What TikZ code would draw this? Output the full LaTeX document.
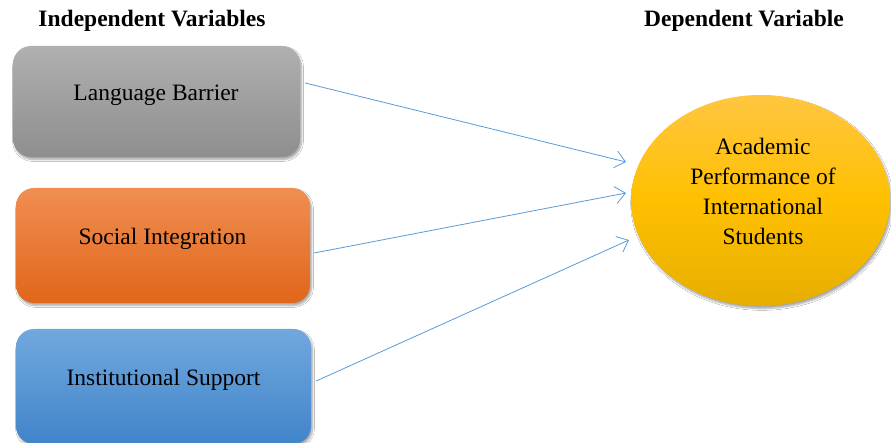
\documentclass[tikz,border=0pt]{standalone}
\usepackage{fontspec}
\setmainfont{Liberation Serif}
\usetikzlibrary{arrows.meta,shadows.blur}
\definecolor{gtop}{HTML}{B0B0B0}
\definecolor{gbot}{HTML}{8E8E8E}
\definecolor{otop}{HTML}{F08E52}
\definecolor{obot}{HTML}{E0661A}
\definecolor{btop}{HTML}{70A8DE}
\definecolor{bbot}{HTML}{4184CA}
\definecolor{ytop}{HTML}{FFC641}
\definecolor{ymid}{HTML}{FFC000}
\definecolor{ybot}{HTML}{E6AE00}
\definecolor{arr}{HTML}{5B9BD5}
\tikzset{
  varbox/.style={rectangle, rounded corners=18pt, inner sep=0pt,
    blur shadow={shadow xshift=1.5pt, shadow yshift=-2.5pt, shadow blur steps=6, shadow opacity=35}},
  boxtext/.style={anchor=base, inner sep=0pt, font=\fontsize{23.5}{28}\selectfont},
  headtext/.style={anchor=base, inner sep=0pt, font=\fontsize{23.5}{28}\selectfont\bfseries},
  link/.style={draw=arr, line width=0.8pt, -{Straight Barb[length=10pt,width=17pt,line width=0.8pt]}}
}
\begin{document}
\begin{tikzpicture}[x=1pt,y=1pt]
\useasboundingbox (0,0) rectangle (891,443);
\fill[white] (0,0) rectangle (891,443);
% headers
\node[headtext] (hin) at (152,416) {Independent Variables};
\node[headtext] (hdep) at (744,416) {Dependent Variable};
% boxes
\node[varbox, minimum width=287pt, minimum height=111pt, top color=gtop, bottom color=gbot] (b1) at (156.5,341.5) {};
\node[varbox, minimum width=294pt, minimum height=115pt, top color=otop, bottom color=obot] (b2) at (163,197.5) {};
\node[varbox, minimum width=295pt, minimum height=115pt, top color=btop, bottom color=bbot] (b3) at (163.5,56.5) {};
\node[boxtext] (t1) at (156,342) {Language Barrier};
\node[boxtext] (t2) at (162.5,198) {Social Integration};
\node[boxtext] (t3) at (163.5,57) {Institutional Support};
% ellipse
\shade[top color=ytop, bottom color=ybot, middle color=ymid,
  blur shadow={shadow xshift=1.5pt, shadow yshift=-2.5pt, shadow blur steps=6, shadow opacity=35}]
  (760.5,242.5) ellipse [x radius=129.5, y radius=105.5];
\coordinate (ec) at (760.5,242.5);
\node[inner sep=0pt, align=center, font=\fontsize{23.5}{29.7}\selectfont] (et) at (763,251.5)
  {Academic\\Performance of\\International\\Students};
% connector end points
\coordinate (s1) at ([shift={(5,18.5)}]b1.east);
\coordinate (s2) at ([shift={(4,-7.5)}]b2.east);
\coordinate (s3) at ([shift={(5,5.5)}]b3.east);
\coordinate (e1) at ([shift={(-134.5,38.5)}]ec);
\coordinate (e2) at ([shift={(-134.5,7.5)}]ec);
\coordinate (e3) at ([shift={(-131.5,-39.5)}]ec);
\draw[link] (s1) -- (e1);
\draw[link] (s2) -- (e2);
\draw[link] (s3) -- (e3);
\end{tikzpicture}
\end{document}
